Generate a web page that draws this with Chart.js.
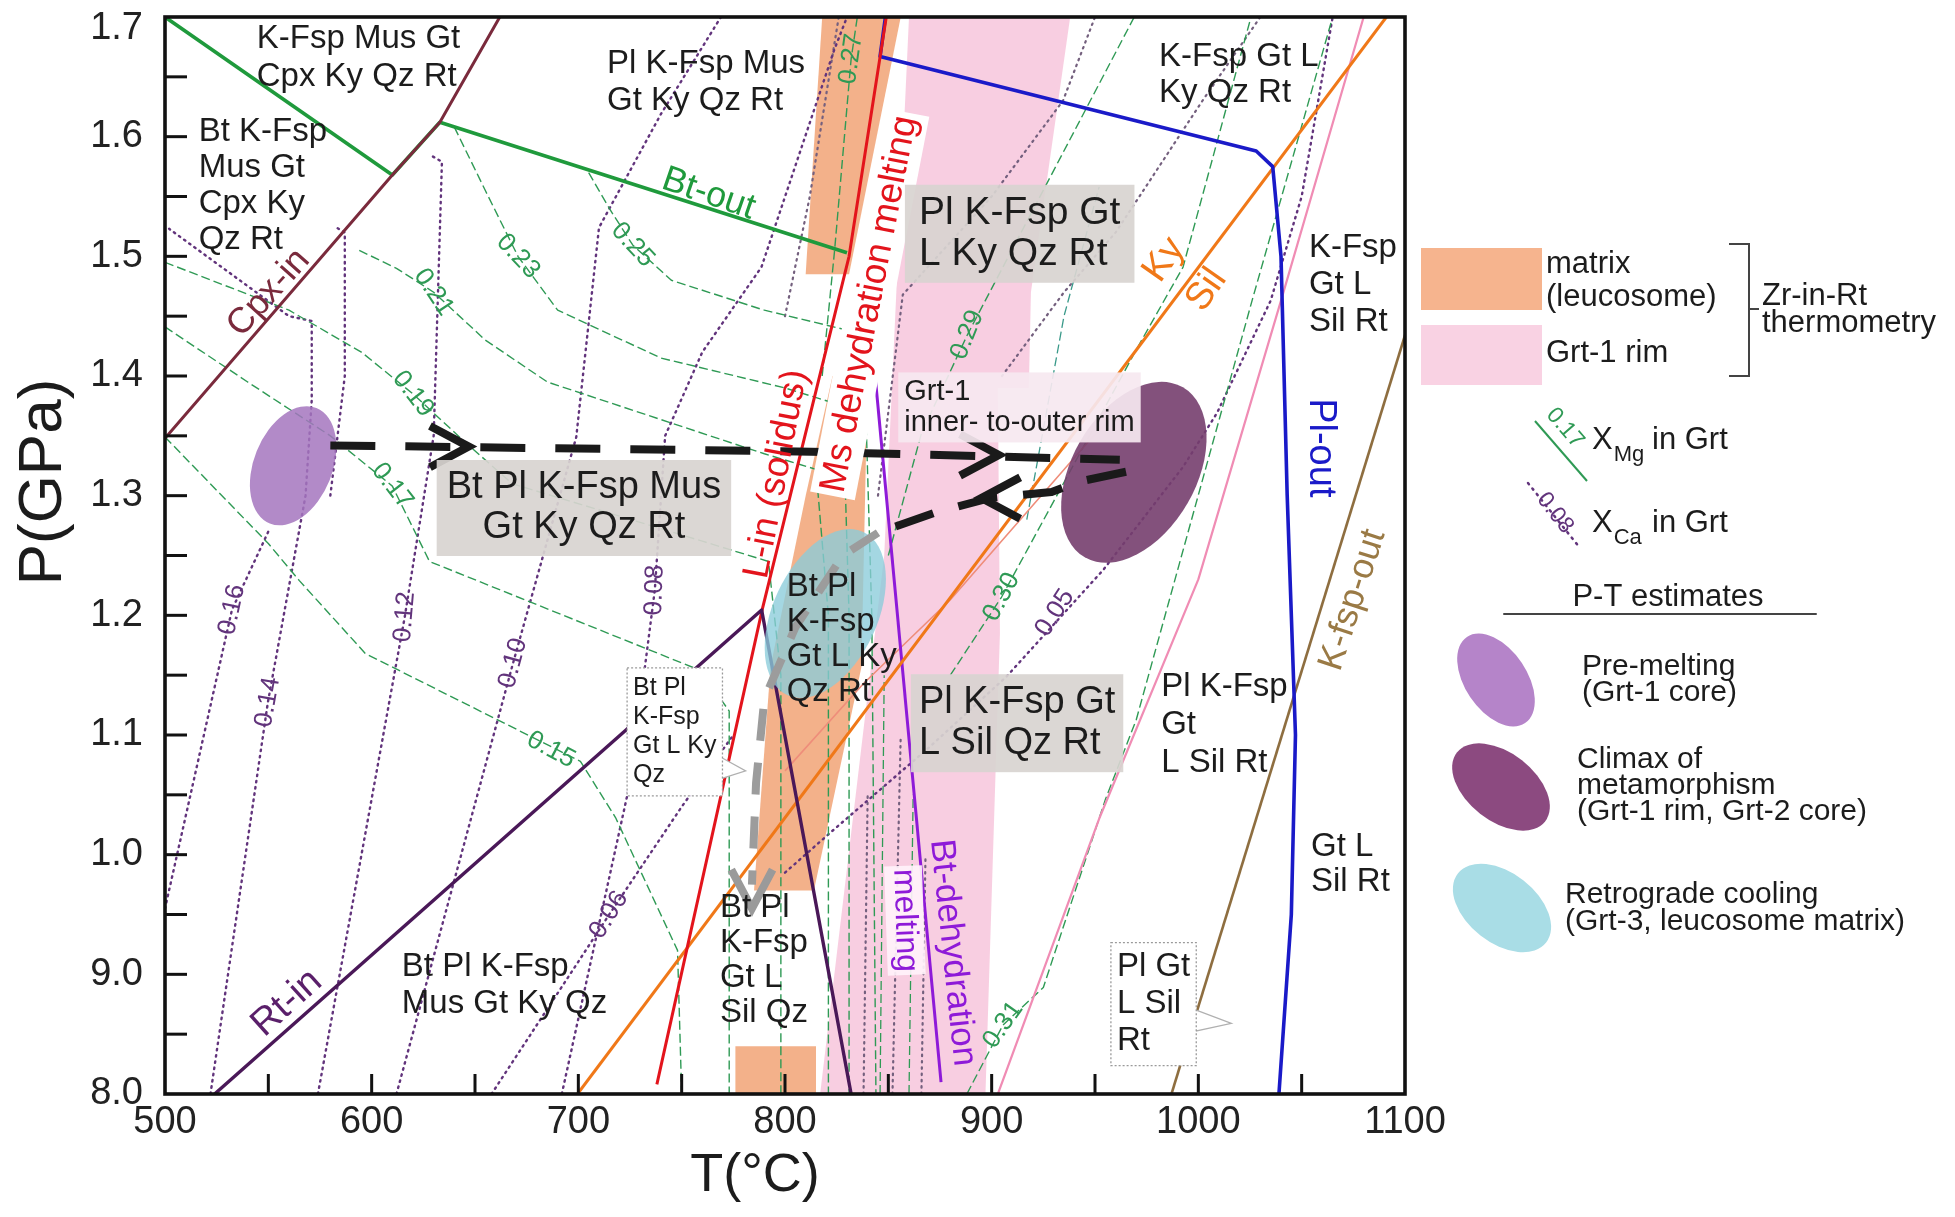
<!DOCTYPE html>
<html>
<head>
<meta charset="utf-8">
<script src="https://cdn.jsdelivr.net/npm/chart.js@4.4.1/dist/chart.umd.min.js"></script>
<style>
html,body{margin:0;padding:0;background:#ffffff;}
#wrap{width:1955px;height:1217px;position:relative;}
</style>
</head>
<body>
<div id="wrap"><canvas id="c"></canvas></div>
<script>
// ---------------- axis ticks ----------------
const xTickValues = [500, 600, 700, 800, 900, 1000, 1100];
const xTickLabels = ['500', '600', '700', '800', '900', '1000', '1100'];
const yTickValues = [0.8, 0.9, 1.0, 1.1, 1.2, 1.3, 1.4, 1.5, 1.6, 1.7];
const yTickLabels = ['8.0', '9.0', '1.0', '1.1', '1.2', '1.3', '1.4', '1.5', '1.6', '1.7'];
const xTickMarks = [550, 600, 650, 700, 750, 800, 850, 900, 950, 1000, 1050];
const yTickMarks = [0.85, 0.9, 0.95, 1.0, 1.05, 1.1, 1.15, 1.2, 1.25, 1.3, 1.35, 1.4, 1.45, 1.5, 1.55, 1.6, 1.65];

// ---------------- phase boundaries [T (°C), P (GPa)] ----------------
const cpxIn = [[500, 1.348], [610, 1.568], [633, 1.612], [662, 1.70]];
const btOut = [[500, 1.70], [610, 1.568], [633, 1.612], [830, 1.503]];
const rtIn = [[524, 0.80], [788.7, 1.2045], [832, 0.80]];
const solidus = [[738, 0.808], [789, 1.205], [831, 1.50], [849, 1.70]];
const plOut = [[848.6, 1.70], [846, 1.667], [1028, 1.588], [1036, 1.575], [1040, 1.50], [1043, 1.30], [1047, 1.10], [1045, 0.95], [1039, 0.80]];
const kySil = [[699.6, 0.80], [1091, 1.70]];
const pinkLine = [[903, 0.80], [952, 1.03], [1000, 1.23], [1040, 1.463], [1080, 1.70]];
const kfspOut = [[987, 0.80], [1100.7, 1.438]];
const btDehydration = [[842, 1.43], [875.5, 0.81]];
const salmonLine = [[800, 1.07], [838, 1.143], [880, 1.213], [947.5, 1.3465], [962, 1.372]];

// ---------------- XMg isopleths ----------------
const xMg015 = [[500, 1.349], [550, 1.26], [565, 1.229], [597, 1.168], [701, 1.078], [718, 1.031], [748, 0.92], [750, 0.80]];
const xMg017 = [[500, 1.441], [540, 1.395], [580, 1.35], [610, 1.308], [628, 1.245], [759, 1.154], [773, 1.12], [773, 0.80]];
const xMg019 = [[500, 1.495], [560, 1.455], [595, 1.42], [620, 1.385], [645, 1.345], [668, 1.31], [760, 1.262], [792, 1.245], [798, 1.15], [798, 0.80]];
const xMg021 = [[594, 1.505], [612, 1.49], [630, 1.47], [655, 1.43], [685, 1.395], [790, 1.335], [815, 1.322], [821, 1.20], [821, 0.80]];
const xMg023 = [[640, 1.608], [655, 1.555], [670.8, 1.50], [690, 1.455], [740, 1.415], [800, 1.39], [828, 1.375], [831, 1.20], [831, 0.80]];
const xMg025 = [[705, 1.57], [715, 1.54], [726.3, 1.5095], [745, 1.48], [790, 1.455], [838, 1.435], [842, 1.20], [844, 0.80]];
const xMg027 = [[818, 1.40], [824, 1.505], [832, 1.665], [835, 1.70]];
const xMg029 = [[850, 1.25], [866, 1.352], [888.2, 1.4343], [969, 1.70]];
const xMg030 = [[880, 1.15], [904.8, 1.2153], [970, 1.422], [992.6, 1.491], [1025.5, 1.70]];
const xMg031 = [[888, 0.80], [905.5, 0.8577], [925, 0.889], [955, 1.046], [970, 1.113], [1026, 1.463], [1065, 1.70]];
const xMgExtraA = [[846, 0.80], [848, 1.15]];
const xMgExtraB = [[860, 0.80], [862, 1.05]];
const xMgExtraC = [[917, 1.28], [935, 1.45], [952, 1.558]];

// ---------------- XCa isopleths ----------------
const xCa016 = [[500, 0.955], [532.4, 1.2047], [550, 1.27]];
const xCa014 = [[522, 0.80], [549.8, 1.1275], [568, 1.30], [571, 1.38], [571, 1.446], [560, 1.45], [502, 1.523]];
const xCa012 = [[574, 0.80], [616, 1.1986], [630, 1.35], [634, 1.579], [628, 1.585]];
const xCa010 = [[612, 0.80], [668.4, 1.16], [699, 1.349], [710, 1.524], [740, 1.619], [769, 1.70]];
const xCa008 = [[692, 0.80], [725, 1.06], [737, 1.221], [742, 1.35], [760, 1.42], [788.6, 1.491], [823.7, 1.672], [830, 1.70]];
const xCa006 = [[658, 0.80], [714.8, 0.9496], [750, 1.04], [775, 1.10]];
const xCa005 = [[800, 0.985], [823, 1.02], [870, 1.09], [907, 1.1485], [954, 1.238], [992.6, 1.324], [1009, 1.369], [1035, 1.463], [1050, 1.55], [1065, 1.70]];
const xCaExtraA = [[580, 1.30], [587, 1.40], [587, 1.52], [582, 1.525]];
const xCaExtraB = [[845, 1.30], [857, 1.468], [900, 1.55], [934.5, 1.63], [950, 1.70]];
const xCaExtraC = [[905, 1.40], [935, 1.47], [960, 1.52], [1002, 1.63], [1030, 1.70]];
const xCaExtraD = [[838, 0.80], [840, 1.05]];
const xCaExtraE = [[852, 0.80], [856, 1.10]];
const xCaExtraF = [[866, 0.80], [868, 1.00]];
const xCaExtraG = [[800, 1.45], [812, 1.55], [826, 1.70]];

// ---------------- Zr-in-Rt thermometry bands ----------------
const matrixBandUpper = [[818, 1.70], [856, 1.70], [831, 1.485], [810, 1.485], [818, 1.70]];
const matrixBandLower = [[823, 1.40], [840, 1.40], [837, 1.157], [814, 0.97], [785, 0.97], [793, 1.157], [810, 1.30], [823, 1.40]];
const matrixBlock = [[776, 0.80], [815, 0.80], [815, 0.84], [776, 0.84], [776, 0.80]];
const grtRimBand = [[860, 1.70], [938, 1.70], [919, 1.47], [918, 1.39], [903, 1.39], [904, 1.185], [897, 0.80], [817, 0.80], [848, 1.25], [860, 1.70]];

// ---------------- P-T path ----------------
const pathProgradeT = [580, 806, 962];
const pathProgradeP = [1.342, 1.337, 1.330];
const pathReturnT = [965, 943, 929, 899, 873, 845];
const pathReturnP = [1.32, 1.312, 1.303, 1.298, 1.286, 1.269];
const pathCoolingT = [845, 828, 805, 790, 786, 784];
const pathCoolingP = [1.269, 1.25, 1.19, 1.13, 1.06, 0.975];

// ---------------- P-T estimates (ellipses) ----------------
const preMelting = {t: 562, p: 1.325, dt: 19, dp: 0.052, rot: 22};
const climax = {t: 968.8, p: 1.3195, dt: 30, dp: 0.082, rot: 30};
const retrograde = {t: 819.5, p: 1.2015, dt: 25.2, dp: 0.0752, rot: 25};

// =====================================================================
const FF = '"Liberation Sans", Arial, Helvetica, sans-serif';
const TXT = '#1c1c1c';
const GRAYBOX = 'rgba(216,212,208,0.92)';
const GREEN = '#2f9a55';
const PURP = '#62347c';

const arrowHeads = [
  {t: 647, p: 1.341, ang: 0, color: '#1a1a1a'},
  {t: 903.5, p: 1.334, ang: 0, color: '#1a1a1a'},
  {t: 895, p: 1.298, ang: 180, color: '#1a1a1a'},
  {t: 784, p: 0.955, ang: 90, color: '#9a9a9a'}
];

const regionLabels = [
  {text: 'K-Fsp Mus Gt\nCpx Ky Qz Rt', t: 544.4, p: 1.682, size: 33, lh: 38},
  {text: 'Bt K-Fsp\nMus Gt\nCpx Ky\nQz Rt', t: 516.3, p: 1.604, size: 33, lh: 36},
  {text: 'Pl K-Fsp Mus\nGt Ky Qz Rt', t: 713.9, p: 1.661, size: 33, lh: 37},
  {text: 'K-Fsp Gt L\nKy Qz Rt', t: 981, p: 1.6666, size: 33, lh: 36},
  {text: 'Pl K-Fsp Gt\nL Ky Qz Rt', t: 864.8, p: 1.536, size: 39, lh: 41, bg: GRAYBOX, padX: 14, padY: 8},
  {text: 'K-Fsp\nGt L\nSil Rt', t: 1053.5, p: 1.507, size: 33, lh: 37},
  {text: 'Bt Pl K-Fsp Mus\nGt Ky Qz Rt', t: 702.7, p: 1.3064, size: 38, lh: 40, align: 'center', bg: GRAYBOX, padX: 10, padY: 8},
  {text: 'Grt-1\ninner- to-outer rim', t: 857.7, p: 1.3867, size: 29, lh: 31, bg: 'rgba(246,232,240,0.92)', padX: 6, padY: 4},
  {text: 'Bt Pl\nK-Fsp\nGt L Ky\nQz Rt', t: 800.8, p: 1.224, size: 33, lh: 35},
  {text: 'Bt Pl\nK-Fsp\nGt L Ky\nQz', t: 726.5, p: 1.139, size: 25, lh: 29, bg: '#ffffff', border: '#9a9a9a', padX: 6, padY: 6, pointer: {t: 781, p: 1.07}},
  {text: 'Pl K-Fsp Gt\nL Sil Qz Rt', t: 864.8, p: 1.127, size: 38, lh: 41, bg: GRAYBOX, padX: 8, padY: 8},
  {text: 'Pl K-Fsp\nGt\nL Sil Rt', t: 982, p: 1.14, size: 33, lh: 38},
  {text: 'Gt L\nSil Rt', t: 1054.5, p: 1.0064, size: 33, lh: 35},
  {text: 'Bt Pl K-Fsp\nMus Gt Ky Qz', t: 614.6, p: 0.906, size: 33, lh: 37},
  {text: 'Bt Pl\nK-Fsp\nGt L\nSil Qz', t: 768.5, p: 0.9555, size: 33, lh: 35},
  {text: 'Pl Gt\nL Sil\nRt', t: 960.6, p: 0.906, size: 33, lh: 37, bg: '#ffffff', border: '#9a9a9a', padX: 6, padY: 6, pointer: {t: 1016, p: 0.859}}
];

const lineLabels = [
  {text: 'Cpx-in', t: 550.2, p: 1.4694, rot: -48, color: '#7a2a3c', size: 36},
  {text: 'Bt-out', t: 763, p: 1.552, rot: 19, color: '#1f9a3c', size: 36},
  {text: 'Rt-in', t: 559, p: 0.876, rot: -42, color: '#5a1f6a', size: 38},
  {text: 'L-in (solidus)', t: 796, p: 1.318, rot: -79, color: '#e3141c', size: 37},
  {text: 'Ms dehydration melting', t: 841, p: 1.46, rot: -79, color: '#e3141c', size: 37, bg: '#ffffff', padX: 4, padY: 2},
  {text: 'Bt-dehydration', t: 881, p: 0.918, rot: 84, color: '#8e1ad8', size: 35},
  {text: 'melting', t: 858, p: 0.945, rot: 88, color: '#8e1ad8', size: 32, bg: 'rgba(255,242,250,0.92)', padX: 3, padY: 1},
  {text: 'Ky', t: 983.4, p: 1.497, rot: -55, color: '#f07818', size: 38},
  {text: 'Sil', t: 1004, p: 1.472, rot: -55, color: '#f07818', size: 38},
  {text: 'Pl-out', t: 1058.9, p: 1.34, rot: 90, color: '#1a1ac8', size: 38},
  {text: 'K-fsp-out', t: 1074.8, p: 1.2128, rot: -72, color: '#9a7a45', size: 36}
];

const isoLabels = [
  {text: '0.15', t: 686.8, p: 1.0876, rot: 28, color: GREEN},
  {text: '0.17', t: 610, p: 1.308, rot: 52, color: GREEN},
  {text: '0.19', t: 620, p: 1.385, rot: 52, color: GREEN},
  {text: '0.21', t: 630, p: 1.47, rot: 56, color: GREEN},
  {text: '0.23', t: 670.8, p: 1.50, rot: 47, color: GREEN},
  {text: '0.25', t: 726.3, p: 1.5095, rot: 47, color: GREEN},
  {text: '0.27', t: 832, p: 1.665, rot: -82, color: GREEN},
  {text: '0.29', t: 888.2, p: 1.4343, rot: -68, color: GREEN},
  {text: '0.30', t: 904.8, p: 1.2153, rot: -62, color: GREEN},
  {text: '0.31', t: 905.5, p: 0.8577, rot: -55, color: GREEN},
  {text: '0.16', t: 532.4, p: 1.2047, rot: -78, color: PURP},
  {text: '0.14', t: 549.8, p: 1.1275, rot: -80, color: PURP},
  {text: '0.12', t: 616, p: 1.1986, rot: -85, color: PURP},
  {text: '0.10', t: 668.4, p: 1.16, rot: -75, color: PURP},
  {text: '0.08', t: 737, p: 1.221, rot: -88, color: PURP},
  {text: '0.06', t: 714.8, p: 0.9496, rot: -58, color: PURP},
  {text: '0.05', t: 930.6, p: 1.202, rot: -57, color: PURP}
];

// ---------------- datasets ----------------
function xy(arr) { return arr.map(([x, y]) => ({x, y})); }
function xyT(ts, ps) { return ts.map((t, i) => ({x: t, y: ps[i]})); }
function ln(label, data, color, width, opts) {
  return Object.assign({
    label, data, showLine: true, borderColor: color, borderWidth: width,
    pointRadius: 0, pointHoverRadius: 0, fill: false, order: 10, tension: 0,
    borderCapStyle: 'butt', borderJoinStyle: 'round'
  }, opts || {});
}
const mgStyle = {borderDash: [9, 4], order: 20};
const caStyle = {borderDash: [1.5, 4.8], borderCapStyle: 'round', order: 20};
const ORANGE_FILL = 'rgba(241,163,118,0.85)';
const CA2 = '#74607e';

const datasets = [
  ln('path prograde', xyT(pathProgradeT, pathProgradeP), '#1a1a1a', 8, {borderDash: [45, 30], order: 1, isPath: true}),
  ln('path return', xyT(pathReturnT, pathReturnP), '#1a1a1a', 8, {borderDash: [40, 26], order: 1, isPath: true}),
  ln('path cooling', xyT(pathCoolingT, pathCoolingP), '#9c9c9c', 8, {borderDash: [32, 22], order: 1, isPath: true}),
  ln('Cpx-in', xy(cpxIn), '#7a2a3c', 3),
  ln('Bt-out', xy(btOut), '#1f9a3c', 3.6),
  ln('Rt-in', xy(rtIn), '#4a1858', 3.4),
  ln('L-in (solidus)', xy(solidus), '#e3141c', 3),
  ln('Pl-out', xy(plOut), '#1a1ac8', 3.6),
  ln('Ky/Sil', xy(kySil), '#f07818', 3),
  ln('pink boundary', xy(pinkLine), '#f08cb4', 2.2),
  ln('K-fsp-out', xy(kfspOut), '#8e6e40', 2.6),
  ln('Bt-dehydration melting', xy(btDehydration), '#8e1ad8', 3),
  ln('thin boundary', xy(salmonLine), '#ef8d7a', 1.6, {order: 12}),
  ln('XMg 0.15', xy(xMg015), GREEN, 1.4, mgStyle),
  ln('XMg 0.17', xy(xMg017), GREEN, 1.4, mgStyle),
  ln('XMg 0.19', xy(xMg019), GREEN, 1.4, mgStyle),
  ln('XMg 0.21', xy(xMg021), GREEN, 1.4, mgStyle),
  ln('XMg 0.23', xy(xMg023), GREEN, 1.4, mgStyle),
  ln('XMg 0.25', xy(xMg025), GREEN, 1.4, mgStyle),
  ln('XMg 0.27', xy(xMg027), GREEN, 1.4, mgStyle),
  ln('XMg 0.29', xy(xMg029), GREEN, 1.4, mgStyle),
  ln('XMg 0.30', xy(xMg030), GREEN, 1.4, mgStyle),
  ln('XMg 0.31', xy(xMg031), GREEN, 1.4, mgStyle),
  ln('XMg a', xy(xMgExtraA), GREEN, 1.3, mgStyle),
  ln('XMg b', xy(xMgExtraB), GREEN, 1.3, mgStyle),
  ln('XMg c', xy(xMgExtraC), '#3a9a8a', 1.3, mgStyle),
  ln('XCa 0.16', xy(xCa016), PURP, 2.4, caStyle),
  ln('XCa 0.14', xy(xCa014), PURP, 2.4, caStyle),
  ln('XCa 0.12', xy(xCa012), PURP, 2.4, caStyle),
  ln('XCa 0.10', xy(xCa010), PURP, 2.4, caStyle),
  ln('XCa 0.08', xy(xCa008), PURP, 2.4, caStyle),
  ln('XCa 0.06', xy(xCa006), PURP, 2.4, caStyle),
  ln('XCa 0.05', xy(xCa005), PURP, 2.4, caStyle),
  ln('XCa a', xy(xCaExtraA), PURP, 2.4, caStyle),
  ln('XCa b', xy(xCaExtraB), CA2, 2.2, caStyle),
  ln('XCa c', xy(xCaExtraC), CA2, 2.2, caStyle),
  ln('XCa d', xy(xCaExtraD), CA2, 2.2, caStyle),
  ln('XCa e', xy(xCaExtraE), CA2, 2.2, caStyle),
  ln('XCa f', xy(xCaExtraF), CA2, 2.2, caStyle),
  ln('XCa g', xy(xCaExtraG), CA2, 2.2, caStyle),
  ln('matrix upper', xy(matrixBandUpper), 'rgba(0,0,0,0)', 0, {fill: 'shape', backgroundColor: ORANGE_FILL, order: 30}),
  ln('matrix lower', xy(matrixBandLower), 'rgba(0,0,0,0)', 0, {fill: 'shape', backgroundColor: ORANGE_FILL, order: 30}),
  ln('matrix block', xy(matrixBlock), 'rgba(0,0,0,0)', 0, {fill: 'shape', backgroundColor: ORANGE_FILL, order: 30}),
  ln('Grt-1 rim', xy(grtRimBand), 'rgba(0,0,0,0)', 0, {fill: 'shape', backgroundColor: 'rgba(246,192,216,0.78)', order: 31})
];

// ---------------- drawing helpers ----------------
function drawTextBlock(ctx, L, x, y, defAlign) {
  const size = L.size || 26;
  const lh = L.lh || size * 1.12;
  const lines = L.text.split('\n');
  ctx.save();
  ctx.font = size + 'px ' + FF;
  const w = Math.max(...lines.map(s => ctx.measureText(s).width));
  const align = L.align || defAlign;
  const padX = L.padX !== undefined ? L.padX : 6;
  const padY = L.padY !== undefined ? L.padY : 3;
  const bx0 = (align === 'center' ? -w / 2 : 0) - padX;
  const by0 = -lh / 2 - padY;
  const bw = w + 2 * padX, bh = lh * lines.length + 2 * padY;
  if (L.pointerPx) {
    const rx = x + bx0 + bw;
    const tip = L.pointerPx;
    const baseY = Math.min(Math.max(tip.y, y + by0 + 20), y + by0 + bh - 20);
    ctx.beginPath();
    ctx.moveTo(rx - 2, baseY - 14);
    ctx.lineTo(tip.x, tip.y);
    ctx.lineTo(rx - 2, baseY + 8);
    ctx.closePath();
    ctx.fillStyle = '#ffffff';
    ctx.fill();
    ctx.strokeStyle = '#b0b0b0';
    ctx.lineWidth = 1.2;
    ctx.stroke();
  }
  ctx.translate(x, y);
  if (L.rot) ctx.rotate(L.rot * Math.PI / 180);
  if (L.bg) {
    ctx.fillStyle = L.bg;
    ctx.fillRect(bx0, by0, bw, bh);
  }
  if (L.border) {
    ctx.setLineDash([2, 2]);
    ctx.strokeStyle = L.border;
    ctx.lineWidth = 1.3;
    ctx.strokeRect(bx0, by0, bw, bh);
    ctx.setLineDash([]);
  }
  ctx.fillStyle = L.color || TXT;
  ctx.textAlign = align;
  ctx.textBaseline = 'middle';
  lines.forEach((s, i) => ctx.fillText(s, 0, i * lh));
  ctx.restore();
}

function drawEllipseData(ctx, chart, e, color) {
  const xs = chart.scales.x, ys = chart.scales.y;
  const cx = xs.getPixelForValue(e.t), cy = ys.getPixelForValue(e.p);
  const rx = Math.abs(xs.getPixelForValue(e.t + e.dt) - cx);
  const ry = Math.abs(ys.getPixelForValue(e.p + e.dp) - cy);
  ctx.save();
  ctx.beginPath();
  ctx.ellipse(cx, cy, rx, ry, e.rot * Math.PI / 180, 0, Math.PI * 2);
  ctx.fillStyle = color;
  ctx.fill();
  ctx.restore();
}

function chevron(ctx, x, y, angDeg, len, half, color, width) {
  ctx.save();
  ctx.translate(x, y);
  ctx.rotate(angDeg * Math.PI / 180);
  ctx.strokeStyle = color;
  ctx.lineWidth = width;
  ctx.lineCap = 'butt';
  ctx.lineJoin = 'miter';
  const a = half * Math.PI / 180;
  ctx.beginPath();
  ctx.moveTo(-len * Math.cos(a), -len * Math.sin(a));
  ctx.lineTo(0, 0);
  ctx.lineTo(-len * Math.cos(a), len * Math.sin(a));
  ctx.stroke();
  ctx.restore();
}

function txt(ctx, s, x, y, size, color, align) {
  ctx.save();
  ctx.font = size + 'px ' + FF;
  ctx.fillStyle = color || TXT;
  ctx.textAlign = align || 'left';
  ctx.textBaseline = 'middle';
  ctx.fillText(s, x, y);
  const w = ctx.measureText(s).width;
  ctx.restore();
  return w;
}

function ellipsePx(ctx, cx, cy, a, b, rot, color) {
  ctx.save();
  ctx.beginPath();
  ctx.ellipse(cx, cy, a, b, rot * Math.PI / 180, 0, Math.PI * 2);
  ctx.fillStyle = color;
  ctx.fill();
  ctx.restore();
}

function drawLegend(ctx) {
  ctx.save();
  ctx.fillStyle = '#f6b48e';
  ctx.fillRect(1421, 248, 121, 62);
  ctx.fillStyle = '#f9d2e3';
  ctx.fillRect(1421, 325, 121, 60);
  txt(ctx, 'matrix', 1546, 264, 31);
  txt(ctx, '(leucosome)', 1546, 297, 31);
  txt(ctx, 'Grt-1 rim', 1546, 353, 31);
  ctx.strokeStyle = '#444';
  ctx.lineWidth = 2;
  ctx.beginPath();
  ctx.moveTo(1729, 244); ctx.lineTo(1749, 244); ctx.lineTo(1749, 376); ctx.lineTo(1729, 376);
  ctx.moveTo(1749, 309); ctx.lineTo(1759, 309);
  ctx.stroke();
  txt(ctx, 'Zr-in-Rt', 1762, 296, 31);
  txt(ctx, 'thermometry', 1762, 323, 31);
  ctx.strokeStyle = GREEN;
  ctx.lineWidth = 2;
  ctx.beginPath(); ctx.moveTo(1535, 421); ctx.lineTo(1587, 481); ctx.stroke();
  drawTextBlock(ctx, {text: '0.17', size: 23, rot: 49, color: GREEN}, 1565, 428, 'center');
  let x = 1592;
  x += txt(ctx, 'X', x, 440, 31);
  txt(ctx, 'Mg', x + 1, 455, 22);
  txt(ctx, 'in Grt', 1652, 440, 31);
  ctx.strokeStyle = PURP;
  ctx.lineWidth = 2.5;
  ctx.lineCap = 'round';
  ctx.setLineDash([1.5, 5.5]);
  ctx.beginPath(); ctx.moveTo(1528, 483); ctx.lineTo(1580, 548); ctx.stroke();
  ctx.setLineDash([]);
  drawTextBlock(ctx, {text: '0.08', size: 23, rot: 52, color: PURP}, 1555, 513, 'center');
  x = 1592;
  x += txt(ctx, 'X', x, 523, 31);
  txt(ctx, 'Ca', x + 1, 538, 22);
  txt(ctx, 'in Grt', 1652, 523, 31);
  txt(ctx, 'P-T estimates', 1668, 597, 31, TXT, 'center');
  ctx.strokeStyle = '#444';
  ctx.lineWidth = 2;
  ctx.beginPath(); ctx.moveTo(1504, 614); ctx.lineTo(1816, 614); ctx.stroke();
  ellipsePx(ctx, 1496, 680, 52, 31, 56, '#b584c9');
  ellipsePx(ctx, 1501, 787, 56, 34, 38, '#8c4a80');
  ellipsePx(ctx, 1502, 908, 56, 35, 38, '#a9dde6');
  txt(ctx, 'Pre-melting', 1582, 667, 30);
  txt(ctx, '(Grt-1 core)', 1582, 693, 30);
  txt(ctx, 'Climax of', 1577, 760, 30);
  txt(ctx, 'metamorphism', 1577, 786, 30);
  txt(ctx, '(Grt-1 rim, Grt-2 core)', 1577, 812, 30);
  txt(ctx, 'Retrograde cooling', 1565, 895, 30);
  txt(ctx, '(Grt-3, leucosome matrix)', 1565, 922, 30);
  ctx.restore();
}

let ellipsesDone = false;
const decor = {
  id: 'decor',
  beforeDraw(chart) {
    ellipsesDone = false;
    const ctx = chart.ctx;
    ctx.save();
    ctx.fillStyle = '#ffffff';
    ctx.fillRect(0, 0, chart.width, chart.height);
    ctx.restore();
  },
  beforeDatasetDraw(chart, args) {
    const ds = chart.data.datasets[args.index];
    if (ds.isPath && !ellipsesDone) {
      ellipsesDone = true;
      const ctx = chart.ctx;
      const a = chart.chartArea;
      ctx.save();
      ctx.beginPath(); ctx.rect(a.left, a.top, a.right - a.left, a.bottom - a.top); ctx.clip();
      drawEllipseData(ctx, chart, retrograde, 'rgba(138,204,218,0.78)');
      drawEllipseData(ctx, chart, preMelting, 'rgba(164,118,190,0.85)');
      drawEllipseData(ctx, chart, climax, 'rgba(118,62,110,0.9)');
      ctx.restore();
    }
  },
  afterDatasetsDraw(chart) {
    const ctx = chart.ctx;
    const xs = chart.scales.x, ys = chart.scales.y;
    arrowHeads.forEach(h => {
      chevron(ctx, xs.getPixelForValue(h.t), ys.getPixelForValue(h.p), h.ang, 44, 28, h.color, 8);
    });
    isoLabels.forEach(L => drawTextBlock(ctx, Object.assign({size: 26}, L), xs.getPixelForValue(L.t), ys.getPixelForValue(L.p), 'center'));
    lineLabels.forEach(L => drawTextBlock(ctx, L, xs.getPixelForValue(L.t), ys.getPixelForValue(L.p), 'center'));
    regionLabels.forEach(L => {
      const L2 = Object.assign({}, L);
      if (L.pointer) L2.pointerPx = {x: xs.getPixelForValue(L.pointer.t), y: ys.getPixelForValue(L.pointer.p)};
      drawTextBlock(ctx, L2, xs.getPixelForValue(L.t), ys.getPixelForValue(L.p), 'left');
    });
  },
  afterDraw(chart) {
    const ctx = chart.ctx;
    const a = chart.chartArea;
    const xs = chart.scales.x, ys = chart.scales.y;
    ctx.save();
    ctx.strokeStyle = '#111';
    ctx.lineWidth = 3;
    yTickMarks.forEach(v => {
      const y = ys.getPixelForValue(v);
      ctx.beginPath(); ctx.moveTo(a.left, y); ctx.lineTo(a.left + 22, y); ctx.stroke();
    });
    xTickMarks.forEach(v => {
      const x = xs.getPixelForValue(v);
      ctx.beginPath(); ctx.moveTo(x, a.bottom); ctx.lineTo(x, a.bottom - 20); ctx.stroke();
    });
    ctx.lineWidth = 3.6;
    ctx.strokeRect(a.left, a.top, a.right - a.left, a.bottom - a.top);
    ctx.fillStyle = '#222';
    ctx.font = '38px ' + FF;
    ctx.textAlign = 'right';
    ctx.textBaseline = 'middle';
    ctx.fillText(yTickLabels[yTickLabels.length - 1], a.left - 22, ys.getPixelForValue(yTickValues[yTickValues.length - 1]) + 12);
    ctx.fillStyle = TXT;
    ctx.font = '54px ' + FF;
    ctx.textAlign = 'center';
    ctx.fillText('T(°C)', 755, 1176);
    ctx.translate(44, 482);
    ctx.rotate(-Math.PI / 2);
    ctx.font = '62px ' + FF;
    ctx.fillText('P(GPa)', 0, 0);
    ctx.restore();
    drawLegend(ctx);
  }
};

new Chart(document.getElementById('c'), {
  type: 'scatter',
  data: {datasets},
  options: {
    responsive: true,
    maintainAspectRatio: false,
    animation: false,
    devicePixelRatio: 1,
    layout: {padding: {left: 0, right: 550, top: 17, bottom: 0}},
    plugins: {legend: {display: false}, tooltip: {enabled: false}},
    events: [],
    scales: {
      x: {
        type: 'linear', min: 500, max: 1100,
        afterBuildTicks: s => { s.ticks = xTickValues.map(v => ({value: v})); },
        afterFit: s => { s.height = 123; s.paddingLeft = 0; s.paddingRight = 0; },
        ticks: {
          font: {family: FF, size: 38}, color: '#222', padding: 6, maxRotation: 0, autoSkip: false,
          callback: v => xTickLabels[xTickValues.indexOf(v)]
        },
        grid: {display: false, drawTicks: false},
        border: {display: false}
      },
      y: {
        type: 'linear', min: 0.8, max: 1.7,
        afterBuildTicks: s => { s.ticks = yTickValues.map(v => ({value: v})); },
        afterFit: s => { s.width = 165; s.paddingTop = 0; s.paddingBottom = 0; },
        ticks: {
          font: {family: FF, size: 38}, color: '#222', padding: 22, autoSkip: false,
          callback: v => (v === yTickValues[yTickValues.length - 1] ? '' : yTickLabels[yTickValues.indexOf(v)])
        },
        grid: {display: false, drawTicks: false},
        border: {display: false}
      }
    }
  },
  plugins: [decor]
});
</script>
</body>
</html>
